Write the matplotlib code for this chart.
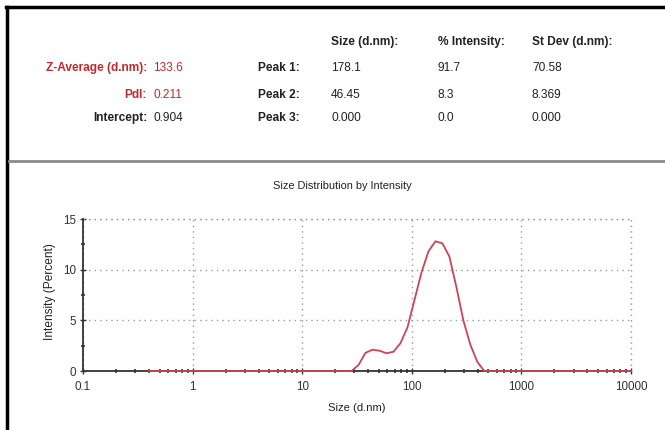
import numpy as np
import matplotlib.pyplot as plt
from matplotlib.lines import Line2D
from matplotlib.ticker import LogLocator, FixedLocator, NullFormatter

plt.rcParams["font.family"] = ["Liberation Sans", "DejaVu Sans"]

# size bins (d.nm) and intensity (%)
sizes = [0.4, 28.21, 32.67, 37.84, 43.82, 50.75, 58.77, 68.06, 78.82, 91.28,
         105.7, 122.4, 141.8, 164.2, 190.1, 220.2, 255.0, 295.3, 342.0,
         396.1, 458.7, 10000]
intensity = [0.0, 0.0, 0.6, 1.8, 2.1, 2.0, 1.75, 1.9, 2.75, 4.3,
             7.0, 9.7, 11.8, 12.8, 12.6, 11.3, 8.3, 5.0, 2.6,
             0.9, 0.0, 0.0]

# summary table
left_labels = ["Z-Average (d.nm):", "PdI:", "Intercept:"]
left_values = ["133.6", "0.211", "0.904"]
left_colors = ["#c0282d", "#c0282d", "#222222"]
peak_labels = ["Peak 1:", "Peak 2:", "Peak 3:"]
col_headers = ["Size (d.nm):", "% Intensity:", "St Dev (d.nm):"]
peak_size = ["178.1", "46.45", "0.000"]
peak_int = ["91.7", "8.3", "0.0"]
peak_sd = ["70.58", "8.369", "0.000"]

W, H = 665, 430
fig = plt.figure(figsize=(W / 100, H / 100), dpi=100)


def fx(px):
    return px / W


def fy(py):
    return 1 - py / H


# frame: black left/top border, grey separator
fig.add_artist(Line2D([fx(7), fx(7)], [0, fy(7)], color="black", lw=2.5))
fig.add_artist(Line2D([fx(6), 1], [fy(7), fy(7)], color="black", lw=2.5))
fig.add_artist(Line2D([fx(9), 1], [fy(160.5), fy(160.5)], color="#8a8a8a", lw=2))

fs = 8.6
rows_y = [68, 95, 118]
for lab, val, col, yy in zip(left_labels, left_values, left_colors, rows_y):
    fig.text(fx(147), fy(yy), lab, ha="right", va="center", fontsize=fs,
             color=col, fontweight="bold")
    fig.text(fx(153), fy(yy), val, ha="left", va="center", fontsize=fs, color=col)

for lab, yy in zip(peak_labels, rows_y):
    fig.text(fx(258), fy(yy), lab, ha="left", va="center", fontsize=fs,
             color="#222222", fontweight="bold")

col_x = [331, 438, 532]
for hdr, xx in zip(col_headers, col_x):
    fig.text(fx(xx), fy(42), hdr, ha="left", va="center", fontsize=fs,
             color="#222222", fontweight="bold")
for col_vals, xx in zip([peak_size, peak_int, peak_sd], col_x):
    for v, yy in zip(col_vals, rows_y):
        fig.text(fx(xx), fy(yy), v, ha="left", va="center", fontsize=fs,
                 color="#222222")

# distribution plot
ax = fig.add_axes([fx(83), fy(371), fx(631) - fx(83), fy(219) - fy(371)])
ax.plot(sizes, intensity, color="#cc4455", lw=1.3, zorder=3, clip_on=False)
ax.set_xscale("log")
ax.set_xlim(0.1, 10000)
ax.set_ylim(0, 15)
ax.set_xticks([0.1, 1, 10, 100, 1000, 10000])
ax.set_xticklabels(["0.1", "1", "10", "100", "1000", "10000"])
ax.xaxis.set_minor_locator(LogLocator(base=10, subs=np.arange(2, 10)))
ax.xaxis.set_minor_formatter(NullFormatter())
ax.set_yticks([0, 5, 10, 15])
ax.yaxis.set_minor_locator(FixedLocator([2.5, 7.5, 12.5]))

for s in ["top", "right"]:
    ax.spines[s].set_visible(False)
for s in ["left", "bottom"]:
    ax.spines[s].set_color("#333333")
    ax.spines[s].set_linewidth(1.3)

ax.tick_params(axis="both", which="major", direction="inout", length=4,
               width=1, colors="#333333", labelsize=8.4, pad=3)
ax.tick_params(axis="both", which="minor", direction="inout", length=2.5,
               width=1.2, colors="#333333")
ax.tick_params(axis="x", which="major", pad=5)

ax.grid(True, which="major", color="#9a9a9a", linestyle=(0, (1, 3)), lw=1)
ax.axhline(15, color="#9a9a9a", linestyle=(0, (1, 3)), lw=1, clip_on=False)
ax.axvline(10000, color="#9a9a9a", linestyle=(0, (1, 3)), lw=1, clip_on=False)

fig.text(fx(342), fy(186), "Size Distribution by Intensity", ha="center",
         va="center", fontsize=7.9, color="#222222")
fig.text(fx(357), fy(408), "Size (d.nm)", ha="center", va="center",
         fontsize=8.1, color="#222222")
fig.text(fx(50), fy(292), "Intensity (Percent)", ha="center", va="center",
         rotation=90, fontsize=8.6, color="#222222")

fig.savefig("out.png", dpi=100)
